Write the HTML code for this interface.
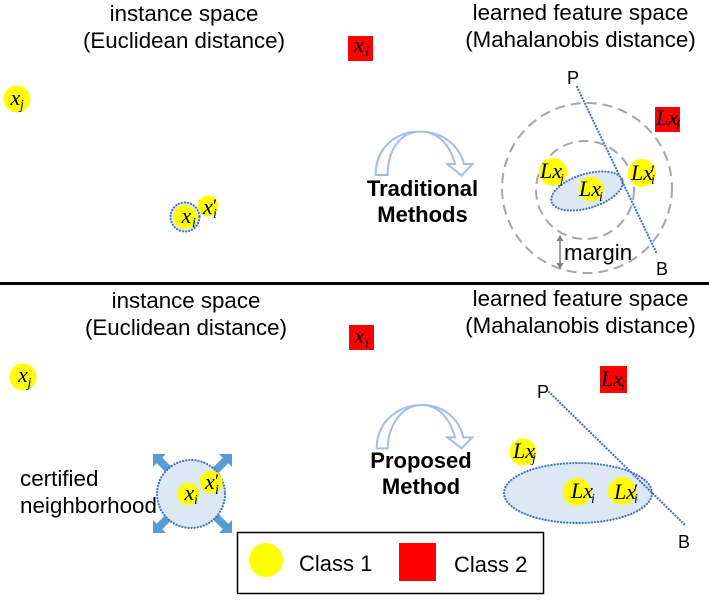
<!DOCTYPE html>
<html><head><meta charset="utf-8">
<style>
html,body{margin:0;padding:0;background:#fff}
svg{display:block}
text{font-family:"Liberation Sans",sans-serif;fill:#000}
.h{font-size:22.3px;text-anchor:middle}
.b{font-size:22px;font-weight:bold;text-anchor:middle}
.m{font-family:"Liberation Serif",serif;font-style:italic;font-size:22px}
.s{font-family:"Liberation Serif",serif;font-style:italic;font-size:14px}
.p{font-family:"Liberation Serif",serif;font-size:19px}
.l{font-size:18px}
.d{stroke:#4472c4;stroke-width:2.2;stroke-dasharray:0.1 3;stroke-linecap:round}
</style></head><body>
<svg width="709" height="600" viewBox="0 0 709 600" xmlns="http://www.w3.org/2000/svg">
<!-- divider -->
<rect x="0" y="282" width="709" height="3" fill="#000"/>

<!-- Headers -->
<text class="h" x="184" y="21">instance space</text>
<text class="h" x="184" y="48">(Euclidean distance)</text>
<text class="h" x="580.5" y="20">learned feature space</text>
<text class="h" x="580.5" y="47">(Mahalanobis distance)</text>
<text class="h" x="186" y="308">instance space</text>
<text class="h" x="186" y="335">(Euclidean distance)</text>
<text class="h" x="580.5" y="306">learned feature space</text>
<text class="h" x="580.5" y="333">(Mahalanobis distance)</text>

<!-- top left -->
<circle cx="17" cy="99" r="13.5" fill="#ffff00"/>
<text class="m" x="10.5" y="105">x</text><text class="s" x="20" y="109">j</text>
<rect x="348" y="36" width="25" height="25" fill="#ff0000"/>
<text class="m" x="354" y="52">x</text><text class="s" x="365" y="56">l</text>
<circle cx="185" cy="217" r="14.5" fill="#dde8f5" class="d"/>
<circle cx="185" cy="217" r="12" fill="#ffff00"/>
<text class="m" x="181.5" y="223">x</text><text class="s" x="192" y="227">i</text>
<circle cx="208" cy="206" r="10.5" fill="#ffff00"/>
<text class="m" x="203" y="214">x</text><text class="p" x="213" y="212">′</text><text class="s" x="213" y="218">i</text>

<!-- top arrow -->
<g transform="translate(340,60) scale(0.3333)">
<path d="M107 345 C107 265 165 215 240 215 C310 215 358 258 372 312 L397 312 L365 347 L322 312 L345 312 C330 255 295 215 240 215 C185 215 143 265 143 345 Z" fill="#fff" stroke="#a4bde3" stroke-width="6" stroke-linejoin="miter"/>
</g>
<text class="b" x="422.5" y="196">Traditional</text>
<text class="b" x="422.5" y="222">Methods</text>

<!-- top right -->
<circle cx="587" cy="188" r="85" fill="none" stroke="#a6a6a6" stroke-width="2" stroke-dasharray="10 6"/>
<circle cx="585" cy="190" r="49" fill="none" stroke="#a6a6a6" stroke-width="2" stroke-dasharray="10 6"/>
<ellipse cx="587" cy="191" rx="37" ry="17" transform="rotate(-17 587 191)" fill="#dde8f5" class="d"/>
<line x1="577" y1="87" x2="657" y2="254" class="d"/>
<text class="l" x="567" y="84">P</text>
<text class="l" x="656" y="275">B</text>
<circle cx="553" cy="172" r="14" fill="#ffff00"/>
<text class="m" x="540" y="178">Lx</text><text class="s" x="560" y="183">j</text>
<circle cx="591" cy="189" r="12.5" fill="#ffff00"/>
<text class="m" x="579" y="196">Lx</text><text class="s" x="599" y="201">i</text>
<circle cx="642" cy="173" r="14" fill="#ffff00"/>
<text class="m" x="631" y="180">Lx</text><text class="p" x="651" y="178">′</text><text class="s" x="651" y="184">i</text>
<rect x="655" y="107" width="25" height="25" fill="#ff0000"/>
<text class="m" x="656" y="125">Lx</text><text class="s" x="676" y="129">l</text>
<!-- margin -->
<line x1="560" y1="238" x2="560" y2="266" stroke="#7f7f7f" stroke-width="1.5"/>
<path d="M556.5 241 L560 235 L563.5 241 Z M556.5 263 L560 269 L563.5 263 Z" fill="#7f7f7f"/>
<text x="564" y="260" font-size="22.3">margin</text>

<!-- bottom left -->
<circle cx="23" cy="377" r="13.5" fill="#ffff00"/>
<text class="m" x="18" y="382">x</text><text class="s" x="27.5" y="387">j</text>
<rect x="349" y="325" width="25" height="25" fill="#ff0000"/>
<text class="m" x="354.5" y="343">x</text><text class="s" x="365" y="347">i</text>
<g fill="#5b9bd5">
<path d="M153 454 L166 454 L162.3 457.7 L177 472.5 L171.5 478 L156.7 463.3 L153 467 Z"/>
<path d="M232 454 L219 454 L222.7 457.7 L208 472.5 L213.5 478 L228.3 463.3 L232 467 Z"/>
<path d="M153 533 L166 533 L162.3 529.3 L177 514.5 L171.5 509 L156.7 523.7 L153 520 Z"/>
<path d="M232 533 L219 533 L222.7 529.3 L208 514.5 L213.5 509 L228.3 523.7 L232 520 Z"/>
</g>
<circle cx="191" cy="494" r="34" fill="#dde8f5" class="d"/>
<circle cx="188" cy="494" r="11" fill="#ffff00"/>
<text class="m" x="184.5" y="500">x</text><text class="s" x="194" y="504">i</text>
<circle cx="211" cy="482" r="11.5" fill="#ffff00"/>
<text class="m" x="205" y="489">x</text><text class="p" x="215" y="487">′</text><text class="s" x="215" y="494">i</text>
<text x="20" y="486" font-size="22.4">certified</text>
<text x="20" y="513" font-size="22.4">neighborhood</text>

<!-- bottom arrow -->
<g transform="translate(340,360) scale(0.3333)">
<path d="M110 265 C110 190 170 135 245 135 C315 135 358 180 370 232 L397 232 L365 265 L322 232 L345 232 C330 175 295 135 245 135 C190 135 145 190 143 265 Z" fill="#fff" stroke="#a4bde3" stroke-width="6"/>
</g>
<text class="b" x="421" y="468">Proposed</text>
<text class="b" x="421" y="494">Method</text>

<!-- bottom right -->
<ellipse cx="578" cy="493" rx="74" ry="30" fill="#dde8f5" class="d"/>
<line x1="549" y1="392" x2="686" y2="526" class="d"/>
<text class="l" x="537" y="398">P</text>
<text class="l" x="678" y="548">B</text>
<circle cx="523" cy="452" r="13.5" fill="#ffff00"/>
<text class="m" x="513" y="458">Lx</text><text class="s" x="532" y="462">j</text>
<circle cx="577" cy="492" r="14" fill="#ffff00"/>
<text class="m" x="571" y="498">Lx</text><text class="s" x="591" y="503">i</text>
<circle cx="622" cy="491" r="14" fill="#ffff00"/>
<text class="m" x="614" y="499">Lx</text><text class="p" x="634" y="497">′</text><text class="s" x="634" y="503">i</text>
<rect x="600" y="366" width="27" height="27" fill="#ff0000"/>
<text class="m" x="601" y="386">Lx</text><text class="s" x="621" y="390">l</text>

<!-- legend -->
<rect x="237.5" y="532.5" width="306" height="61" fill="#fff" stroke="#000" stroke-width="1.5"/>
<circle cx="266" cy="560" r="17" fill="#ffff00"/>
<text x="299" y="571" font-size="22">Class 1</text>
<rect x="399" y="543" width="37" height="38" fill="#ff0000"/>
<text x="454" y="572" font-size="22">Class 2</text>
</svg>
</body></html>
